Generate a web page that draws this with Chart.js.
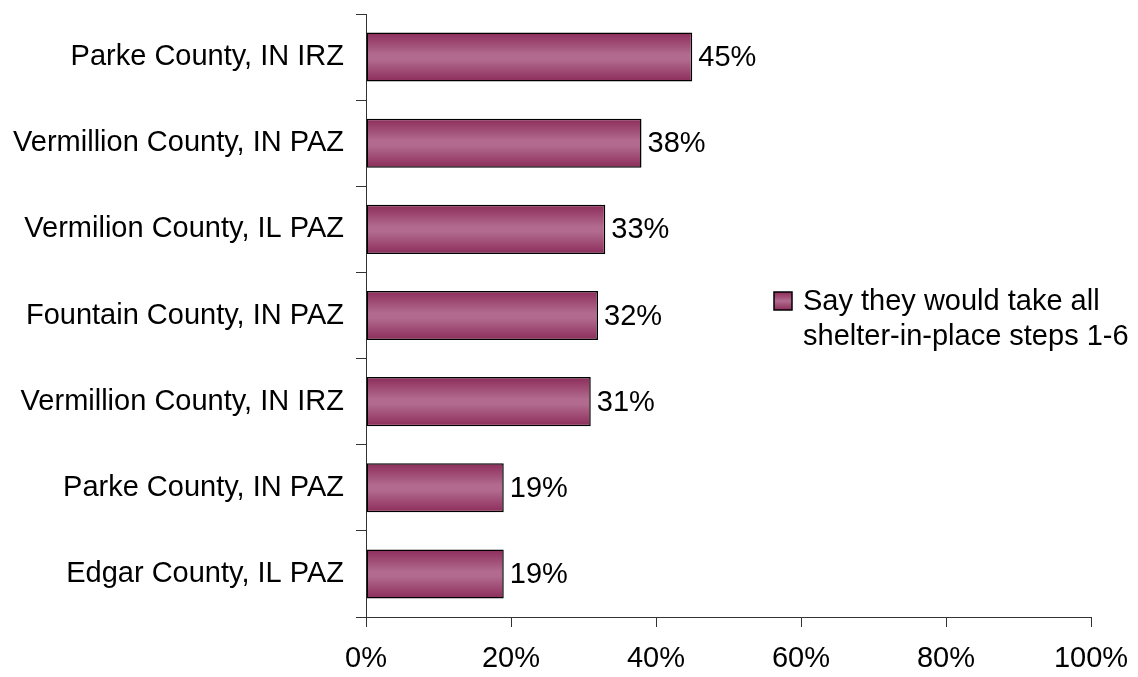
<!DOCTYPE html>
<html>
<head>
<meta charset="utf-8">
<script src="https://cdn.jsdelivr.net/npm/chart.js@4.4.1/dist/chart.umd.min.js"></script>
<style>
  body { margin: 0; background: #fff; }
  canvas { display: block; }
</style>
</head>
<body>
<canvas id="chart" width="1138" height="677"></canvas>
<script>
const categories = [
  "Parke County, IN IRZ",
  "Vermillion County, IN PAZ",
  "Vermilion County, IL PAZ",
  "Fountain County, IN PAZ",
  "Vermillion County, IN IRZ",
  "Parke County, IN PAZ",
  "Edgar County, IL PAZ",
];
const shelterValues = [45, 38, 33, 32, 31, 19, 19];
const seriesName = ["Say they would take all", "shelter-in-place steps 1-6"];
const xTicks = [0, 20, 40, 60, 80, 100];

const FONT = "'Liberation Sans', Arial, sans-serif";
const BAR_PCT = 0.57;
const EDGE = "#8c2c5a";
const MID = "#b26b8f";

// vertical shading across each bar
function barFill(ctx) {
  const chart = ctx.chart;
  if (!chart.chartArea || ctx.dataIndex === undefined) return MID;
  const ys = chart.scales.y;
  const y = ys.getPixelForValue(ctx.dataIndex);
  const half = (ys.height / categories.length) * BAR_PCT / 2;
  const g = chart.ctx.createLinearGradient(0, y - half, 0, y + half);
  g.addColorStop(0, EDGE);
  g.addColorStop(0.45, MID);
  g.addColorStop(0.55, MID);
  g.addColorStop(1, EDGE);
  return g;
}

// percentage text at the end of each bar
const valueLabels = {
  id: "valueLabels",
  afterDatasetsDraw(chart) {
    const c = chart.ctx;
    const meta = chart.getDatasetMeta(0);
    c.save();
    c.font = "29px " + FONT;
    c.fillStyle = "#000";
    c.textAlign = "left";
    c.textBaseline = "middle";
    meta.data.forEach((bar, i) => {
      c.fillText(shelterValues[i] + "%", bar.x + 6, bar.y + 1);
    });
    c.restore();
  },
};

// legend box on the right, two lines of text
const sideLegend = {
  id: "sideLegend",
  afterDraw(chart) {
    const c = chart.ctx;
    c.save();
    const g = c.createLinearGradient(0, 292, 0, 310);
    g.addColorStop(0, EDGE);
    g.addColorStop(0.5, MID);
    g.addColorStop(1, EDGE);
    c.fillStyle = g;
    c.fillRect(774, 292, 18, 18);
    c.strokeStyle = "#000";
    c.lineWidth = 1.5;
    c.strokeRect(774, 292, 18, 18);
    c.font = "29px " + FONT;
    c.fillStyle = "#000";
    c.textBaseline = "middle";
    c.fillText(seriesName[0], 803, 302);
    c.fillText(seriesName[1], 803, 337);
    c.restore();
  },
};

new Chart(document.getElementById("chart"), {
  type: "bar",
  plugins: [valueLabels, sideLegend],
  data: {
    labels: categories,
    datasets: [{
      label: seriesName.join(" "),
      data: shelterValues,
      backgroundColor: barFill,
      borderColor: "#000",
      borderWidth: 1.5,
      borderSkipped: false,
      categoryPercentage: 1,
      barPercentage: BAR_PCT,
    }],
  },
  options: {
    indexAxis: "y",
    responsive: false,
    animation: false,
    layout: { padding: { top: 14, right: 47, left: 0, bottom: 0 } },
    plugins: {
      legend: { display: false },
      tooltip: { enabled: false },
    },
    scales: {
      x: {
        min: 0,
        max: 100,
        afterBuildTicks(scale) {
          scale.ticks = xTicks.map((v) => ({ value: v }));
        },
        afterFit(scale) {
          scale.height = 60;
          scale.paddingLeft = 0;
          scale.paddingRight = 0;
        },
        grid: {
          drawOnChartArea: false,
          drawTicks: true,
          tickLength: 10,
          color: "#333",
        },
        border: { color: "#333", width: 1 },
        ticks: {
          callback: (v) => v + "%",
          color: "#000",
          font: { family: FONT, size: 29 },
          padding: 15,
          maxRotation: 0,
        },
      },
      y: {
        afterFit(scale) {
          scale.width = 366;
          scale.paddingTop = 0;
          scale.paddingBottom = 0;
        },
        grid: {
          offset: true,
          drawOnChartArea: false,
          tickLength: 10,
          color: "#333",
        },
        border: { color: "#333", width: 1 },
        ticks: {
          color: "#000",
          font: { family: FONT, size: 29 },
          padding: 12,
        },
      },
    },
  },
});
</script>
</body>
</html>
